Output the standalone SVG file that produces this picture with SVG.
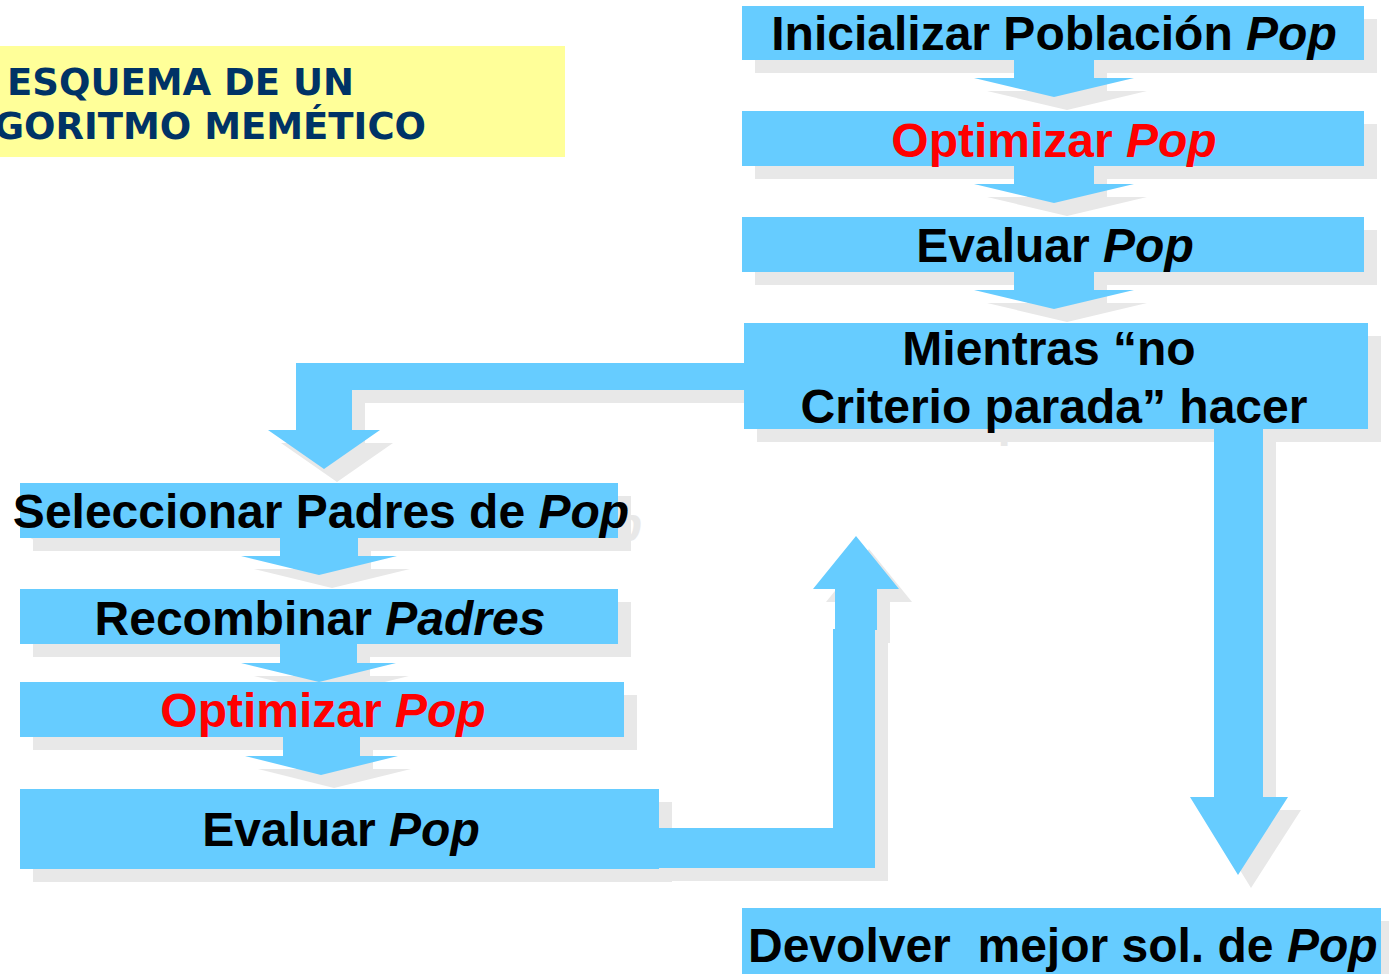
<svg xmlns="http://www.w3.org/2000/svg" width="1389" height="974" viewBox="0 0 1389 974">
<defs>
<style>
.sh{fill:#E8E8E8}
.bx{fill:#66CCFF}
.t{font-family:"Liberation Sans",Arial,sans-serif;font-weight:bold;font-size:48px;text-anchor:middle;fill:#000000}
.st{font-family:"Liberation Sans",Arial,sans-serif;font-weight:bold;font-size:48px;text-anchor:middle;fill:#E8E8E8}
.r{fill:#FF0000}
.s{text-anchor:start}
.i{font-style:italic}
.ttl{font-family:"DejaVu Sans",Verdana,sans-serif;font-weight:bold;font-size:37px;fill:#003366;text-anchor:end}
</style>
</defs>
<rect x="0" y="0" width="1389" height="974" fill="#FFFFFF"/>

<g id="title">
<rect x="0" y="46" width="565" height="111" fill="#FFFF99"/>
<text class="ttl" x="354" y="95">ESQUEMA DE UN</text>
<text class="ttl" x="426" y="139">ALGORITMO MEMÉTICO</text>
</g>

<g id="shadows" class="sh" transform="translate(13,13)">
<rect x="742" y="6" width="622" height="54"/>
<rect x="742" y="111" width="622" height="55"/>
<rect x="742" y="217" width="622" height="55"/>
<rect x="744" y="323" width="624" height="106"/>
<rect x="20" y="483" width="598" height="55"/>
<rect x="20" y="589" width="598" height="55"/>
<rect x="20" y="682" width="604" height="55"/>
<rect x="20" y="789" width="639" height="80"/>
<rect x="742" y="908" width="639" height="80"/>
<path d="M1014 50 H1094 V78 H1134 L1054 97 L974 78 H1014 Z"/>
<path d="M1014 156 H1094 V184 H1134 L1054 203 L974 184 H1014 Z"/>
<path d="M1014 262 H1094 V290 H1134 L1054 309 L974 290 H1014 Z"/>
<path d="M750 363 V390 H352 V430 H380 L324 469 L268 430 H296 V363 Z"/>
<path d="M280 530 H358 V556 H397 L319 575 L241 556 H280 Z"/>
<path d="M280 636 H357 V663 H396 L319 682 L241 663 H280 Z"/>
<path d="M283 729 H360 V756 H398 L321 775 L245 756 H283 Z"/>
<path d="M650 828 H833 V629 H875 V868 H650 Z"/>
<path d="M835 630 V589 H813 L856 536 L899 589 H877 V630 Z"/>
<path d="M1214 420 H1263 V797 H1288 L1238 875 L1190 797 H1214 Z"/>
<text class="st" x="1054" y="423">Criterio parada” hacer</text>
<text class="st" x="321" y="528">Seleccionar Padres de <tspan class="i">Pop</tspan></text>
</g>

<g id="connectors" class="bx">
<path d="M1014 50 H1094 V78 H1134 L1054 97 L974 78 H1014 Z"/>
<path d="M1014 156 H1094 V184 H1134 L1054 203 L974 184 H1014 Z"/>
<path d="M1014 262 H1094 V290 H1134 L1054 309 L974 290 H1014 Z"/>
<path d="M750 363 V390 H352 V430 H380 L324 469 L268 430 H296 V363 Z"/>
<path d="M280 530 H358 V556 H397 L319 575 L241 556 H280 Z"/>
<path d="M280 636 H357 V663 H396 L319 682 L241 663 H280 Z"/>
<path d="M283 729 H360 V756 H398 L321 775 L245 756 H283 Z"/>
<path d="M650 828 H833 V629 H875 V868 H650 Z"/>
<path d="M835 630 V589 H813 L856 536 L899 589 H877 V630 Z"/>
<path d="M1214 420 H1263 V797 H1288 L1238 875 L1190 797 H1214 Z"/>
</g>

<g id="n1">
<rect class="bx" x="742" y="6" width="622" height="54"/>
<text class="t" x="1054" y="50">Inicializar Población <tspan class="i">Pop</tspan></text>
</g>
<g id="n2">
<rect class="bx" x="742" y="111" width="622" height="55"/>
<text class="t r" x="1054" y="157">Optimizar <tspan class="i">Pop</tspan></text>
</g>
<g id="n3">
<rect class="bx" x="742" y="217" width="622" height="55"/>
<text class="t" x="1055" y="262">Evaluar <tspan class="i">Pop</tspan></text>
</g>
<g id="n4">
<rect class="bx" x="744" y="323" width="624" height="106"/>
<text class="t" x="1049" y="365">Mientras “no</text>
<text class="t" x="1054" y="423">Criterio parada” hacer</text>
</g>
<g id="n5">
<rect class="bx" x="20" y="483" width="598" height="55"/>
<text class="t" x="321" y="528">Seleccionar Padres de <tspan class="i">Pop</tspan></text>
</g>
<g id="n6">
<rect class="bx" x="20" y="589" width="598" height="55"/>
<text class="t" x="320" y="635">Recombinar <tspan class="i">Padres</tspan></text>
</g>
<g id="n7">
<rect class="bx" x="20" y="682" width="604" height="55"/>
<text class="t r" x="323" y="727">Optimizar <tspan class="i">Pop</tspan></text>
</g>
<g id="n8">
<rect class="bx" x="20" y="789" width="639" height="80"/>
<text class="t" x="341" y="846">Evaluar <tspan class="i">Pop</tspan></text>
</g>
<g id="n9">
<rect class="bx" x="742" y="908" width="639" height="80"/>
<text class="t s" x="748" y="962">Devolver&#160; mejor sol. de <tspan class="i">Pop</tspan></text>
</g>
</svg>
